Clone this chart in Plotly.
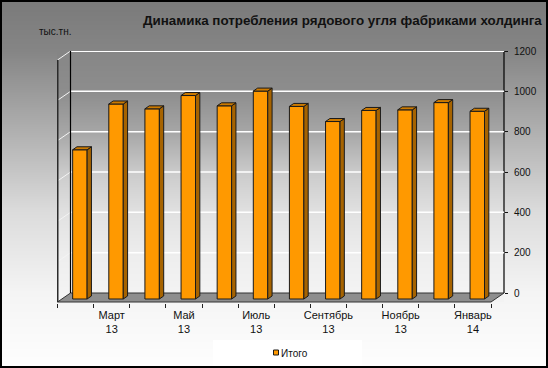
import zlib, struct, base64
import plotly.graph_objects as go

# ---------------- data ----------------
months = ["Февраль 13", "Март 13", "Апрель 13", "Май 13", "Июнь 13", "Июль 13",
          "Август 13", "Сентябрь 13", "Октябрь 13", "Ноябрь 13", "Декабрь 13", "Январь 14"]
values = [740, 967, 943, 1009, 958, 1031, 955, 880, 935, 938, 974, 931]
label_months = ["Март 13", "Май 13", "Июль 13", "Сентябрь 13", "Ноябрь 13", "Январь 14"]
y_ticks = [0, 200, 400, 600, 800, 1000, 1200]
series_name = "Итого"
title_text = "Динамика потребления рядового угля фабриками холдинга"
unit_text = "тыс.тн."

# ---------------- geometry ----------------
W, H = 548, 368
L, R, T, B = 57, 44, 51, 65
PW, PH = W - L - R, H - T - B
CAT_PX = 36.125          # pixels per category on the front edge
X0_PX = 57.5             # front-left floor corner
Y0_PX = 302              # value 0 on front plane
PXV = 242 / 1200         # pixels per value unit
DX = 13 / CAT_PX         # depth offset (x units)
DY = 9 / PXV             # depth offset (value units)
BW = 0.40                # bar width
T1, T2 = 1 / 3, 2 / 3    # bar depth span

n = len(values)
xmin = -0.5 - (X0_PX - L) / CAT_PX
xmax = -0.5 + (W - R - X0_PX) / CAT_PX
ymin = -(T + PH - Y0_PX) / PXV
ymax = (Y0_PX - T) / PXV
ymax_val = max(y_ticks)


def pxx(p):
    return (p - L) / PW


def pxy(p):
    return (T + PH - p) / PH


def png_gray(rows):
    raw = b"".join(b"\x00" + bytes([max(0, min(255, int(round(v))))]) for v in rows)

    def chunk(tag, data):
        c = struct.pack(">I", len(data)) + tag + data
        return c + struct.pack(">I", zlib.crc32(tag + data) & 0xffffffff)

    png = b"\x89PNG\r\n\x1a\n"
    png += chunk(b"IHDR", struct.pack(">IIBBBBB", 1, len(rows), 8, 0, 0, 0, 0))
    png += chunk(b"IDAT", zlib.compress(raw, 9))
    png += chunk(b"IEND", b"")
    return "data:image/png;base64," + base64.b64encode(png).decode()


def interp(stops, y):
    for (y0, v0), (y1, v1) in zip(stops, stops[1:]):
        if y0 <= y <= y1:
            return v0 + (v1 - v0) * (y - y0) / (y1 - y0)
    return stops[0][1] if y < stops[0][0] else stops[-1][1]


paper_stops = [(0, 122), (51, 133), (132, 176), (213, 220), (293, 244), (368, 254)]
wall_stops = [(51, 134), (92, 141), (132, 166), (173, 203), (213, 225), (253, 237), (302, 245)]
paper_img = png_gray([interp(paper_stops, y + 0.5) for y in range(H)])
wall_img = png_gray([interp(wall_stops, y + 0.5) for y in range(T, Y0_PX)])

fig = go.Figure()

# front faces of the bars
fig.add_trace(go.Bar(
    x=[i + T1 * DX for i in range(n)], y=values, base=[T1 * DY] * n, width=BW,
    marker=dict(color="#FF9900", line=dict(color="#1a1a1a", width=1)),
    name=series_name, hoverinfo="skip", showlegend=False))

# side faces
sx, sy = [], []
for i, v in enumerate(values):
    xr = i + BW / 2
    for a, b in [(T1, 0), (T2, 0), (T2, v), (T1, v), (T1, 0)]:
        sx.append(xr + a * DX)
        sy.append(b + a * DY)
    sx.append(None); sy.append(None)
fig.add_trace(go.Scatter(x=sx, y=sy, mode="lines", fill="toself", fillcolor="#A66300",
                         line=dict(color="#1a1a1a", width=1), hoverinfo="skip", showlegend=False))

# top faces
tx, ty = [], []
for i, v in enumerate(values):
    xl, xr = i - BW / 2, i + BW / 2
    for xx, a in [(xl, T1), (xr, T1), (xr, T2), (xl, T2), (xl, T1)]:
        tx.append(xx + a * DX)
        ty.append(v + a * DY)
    tx.append(None); ty.append(None)
fig.add_trace(go.Scatter(x=tx, y=ty, mode="lines", fill="toself", fillcolor="#CC7A00",
                         line=dict(color="#1a1a1a", width=1), hoverinfo="skip", showlegend=False))

# invisible trace for the right (back wall) axis
fig.add_trace(go.Scatter(x=[None], y=[None], yaxis="y2", showlegend=False, hoverinfo="skip"))

shapes = []
# top-left triangle outside the left wall (paper colour)
shapes.append(dict(type="path", xref="x", yref="y", layer="below",
                   path=f"M {xmin},{ymax_val} L -0.5,{ymax_val} L {-0.5 + DX},{ymax} L {xmin},{ymax} Z",
                   fillcolor="#858585", line=dict(width=0)))
# bottom-right triangle outside the floor
shapes.append(dict(type="path", xref="x", yref="y", layer="below",
                   path=f"M {n - 0.5},0 L {n - 0.5 + DX},{DY} L {n - 0.5 + DX},0 Z",
                   fillcolor="#f3f3f3", line=dict(width=0)))
# floor
shapes.append(dict(type="path", xref="x", yref="y", layer="below",
                   path=f"M -0.5,0 L {n - 0.5},0 L {n - 0.5 + DX},{DY} L {-0.5 + DX},{DY} Z",
                   fillcolor="#8e8e8e", line=dict(color="#333333", width=1)))
# gridlines on back wall and left wall
for v in y_ticks[1:]:
    shapes.append(dict(type="line", xref="x", yref="y", layer="below",
                       x0=-0.5 + DX, x1=n - 0.5 + DX, y0=v + DY, y1=v + DY,
                       line=dict(color="#ffffff", width=2 if v == ymax_val else 1.5)))
    shapes.append(dict(type="line", xref="x", yref="y", layer="below",
                       x0=-0.5, x1=-0.5 + DX, y0=v, y1=v + DY,
                       line=dict(color="#f4f4f4", width=1)))
# wall edges
shapes.append(dict(type="line", xref="x", yref="y", layer="below",
                   x0=-0.5 + DX, x1=-0.5 + DX, y0=DY, y1=ymax_val + DY,
                   line=dict(color="#000000", width=1.2)))
shapes.append(dict(type="line", xref="x", yref="y", layer="below",
                   x0=-0.5, x1=-0.5, y0=0, y1=ymax_val,
                   line=dict(color="#2b2b2b", width=2)))
shapes.append(dict(type="line", xref="paper", yref="paper", layer="below",
                   x0=1, x1=1, y0=pxy(Y0_PX - 9), y1=1,
                   line=dict(color="#000000", width=1.2)))
# legend box
shapes.append(dict(type="rect", xref="paper", yref="paper", layer="below",
                   x0=pxx(213), x1=pxx(362), y0=pxy(366), y1=pxy(340),
                   fillcolor="#ffffff", line=dict(width=0)))
shapes.append(dict(type="rect", xref="paper", yref="paper",
                   x0=pxx(273.5), x1=pxx(278.5), y0=pxy(355), y1=pxy(350),
                   fillcolor="#FF9900", line=dict(color="#1a1a1a", width=1)))
# outer border
shapes.append(dict(type="rect", xref="paper", yref="paper",
                   x0=pxx(1), x1=pxx(547), y0=pxy(367), y1=pxy(1),
                   line=dict(color="#000000", width=2)))

annotations = [
    dict(text=f"<b>{title_text}</b>", xref="paper", yref="paper", x=pxx(342), y=pxy(20),
         xanchor="center", yanchor="middle", showarrow=False,
         font=dict(family="Liberation Sans, Arial", size=13.4, color="#111111")),
    dict(text=unit_text, xref="paper", yref="paper", x=pxx(55), y=pxy(31),
         xanchor="center", yanchor="middle", showarrow=False,
         font=dict(family="Liberation Sans, Arial", size=10, color="#111111")),
    dict(text=series_name, xref="paper", yref="paper", x=pxx(279), y=pxy(353),
         xanchor="left", yanchor="middle", showarrow=False,
         font=dict(family="Liberation Sans, Arial", size=10, color="#111111")),
]

images = [
    dict(source=paper_img, xref="paper", yref="paper", x=pxx(0), y=pxy(0),
         sizex=W / PW, sizey=H / PH, xanchor="left", yanchor="top",
         sizing="stretch", layer="below"),
    dict(source=wall_img, xref="paper", yref="paper", x=pxx(L), y=pxy(T),
         sizex=1, sizey=(Y0_PX - T) / PH, xanchor="left", yanchor="top",
         sizing="stretch", layer="below"),
]

tickvals = [months.index(m) for m in label_months]
ticktext = [m.replace(" ", "<br>") for m in label_months]

fig.update_layout(
    width=W, height=H, margin=dict(l=L, r=R, t=T, b=B, pad=0),
    paper_bgcolor="#ffffff", plot_bgcolor="rgba(0,0,0,0)",
    showlegend=False, shapes=shapes, annotations=annotations, images=images,
    font=dict(family="Liberation Sans, Arial", size=11, color="#111111"),
    xaxis=dict(range=[xmin, xmax], tickvals=tickvals, ticktext=ticktext, ticks="",
               showgrid=False, zeroline=False, showline=False,
               tickfont=dict(size=11, color="#111111"), ticklabelstandoff=4,
               minor=dict(tickvals=[i - 0.5 for i in range(n + 1)], ticks="outside",
                          ticklen=4, tickcolor="#222222", tickwidth=1, showgrid=False)),
    yaxis=dict(range=[ymin, ymax], showticklabels=False, ticks="", showgrid=False,
               zeroline=False, showline=False),
    yaxis2=dict(range=[ymin - DY, ymax - DY], overlaying="y", side="right", anchor="x",
                tickvals=y_ticks, ticks="outside", ticklen=3, tickcolor="#111111",
                showgrid=False, zeroline=False, showline=False,
                tickfont=dict(size=10, color="#111111"), ticklabelstandoff=4),
)

fig.write_html("out.html", config={"displayModeBar": False},
               post_script="document.body.style.margin='0';")
